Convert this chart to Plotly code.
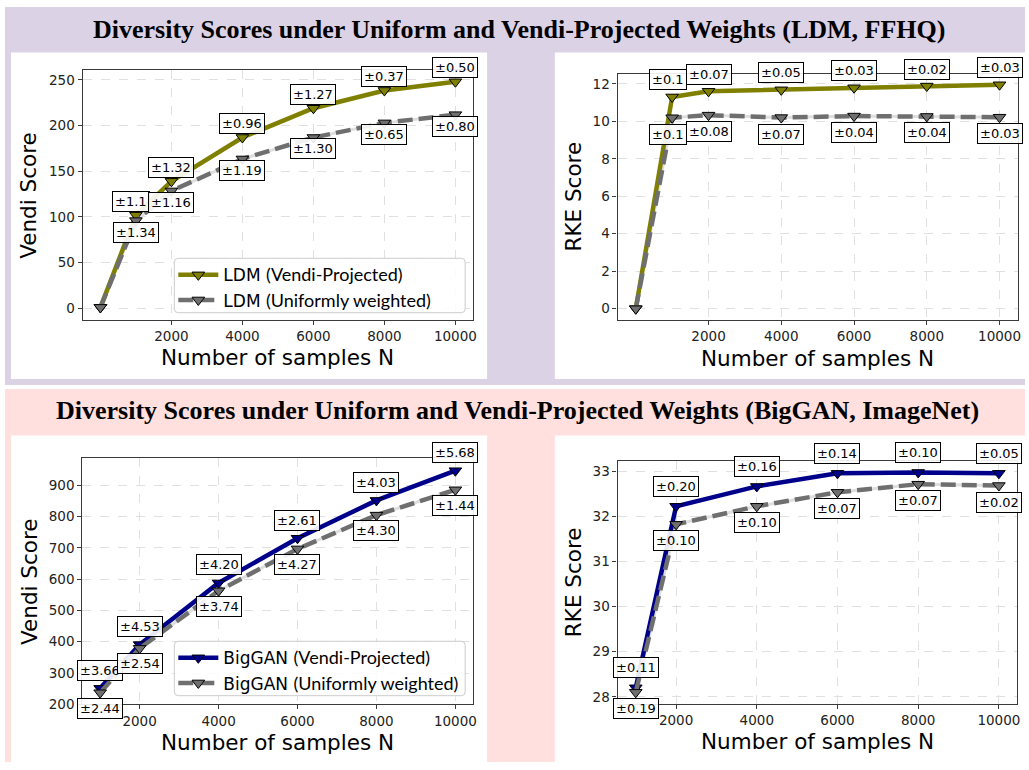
import plotly.graph_objects as go

# ---------------- data ----------------
N_ldm = [0, 1000, 2000, 4000, 6000, 8000, 10000]
ldm_vendi_proj = [1, 102, 139, 187, 219, 238.5, 248]
ldm_vendi_unif = [1, 96, 128.5, 163.5, 187, 203, 212]
ldm_vendi_proj_std = ["", "±1.1", "±1.32", "±0.96", "±1.27", "±0.37", "±0.50"]
ldm_vendi_unif_std = ["", "±1.34", "±1.16", "±1.19", "±1.30", "±0.65", "±0.80"]

ldm_rke_proj = [0, 11.3, 11.6, 11.68, 11.79, 11.88, 11.95]
ldm_rke_unif = [0, 10.19, 10.33, 10.2, 10.28, 10.26, 10.22]
ldm_rke_proj_std = ["", "±0.1", "±0.07", "±0.05", "±0.03", "±0.02", "±0.03"]
ldm_rke_unif_std = ["", "±0.1", "±0.08", "±0.07", "±0.04", "±0.04", "±0.03"]

N_big = [1000, 2000, 4000, 6000, 8000, 10000]
big_vendi_proj = [251, 391, 588, 731, 852, 947]
big_vendi_unif = [237, 379, 563, 697, 805, 886]
big_vendi_proj_std = ["±3.66", "±4.53", "±4.20", "±2.61", "±4.03", "±5.68"]
big_vendi_unif_std = ["±2.44", "±2.54", "±3.74", "±4.27", "±4.30", "±1.44"]

big_rke_proj = [28.2, 32.22, 32.66, 32.95, 32.97, 32.95]
big_rke_unif = [28.1, 31.82, 32.22, 32.53, 32.71, 32.68]
big_rke_proj_std = ["±0.11", "±0.20", "±0.16", "±0.14", "±0.10", "±0.05"]
big_rke_unif_std = ["±0.19", "±0.10", "±0.10", "±0.07", "±0.07", "±0.02"]

x_ticks = [2000, 4000, 6000, 8000, 10000]
x_ticktext = ["2000", "4000", "6000", "8000", "10000"]
ldm_vendi_ticks = [0, 50, 100, 150, 200, 250]
ldm_rke_ticks = [0, 2, 4, 6, 8, 10, 12]
big_vendi_ticks = [200, 300, 400, 500, 600, 700, 800, 900]
big_rke_ticks = [28, 29, 30, 31, 32, 33]

titles = ["Diversity Scores under Uniform and Vendi-Projected Weights (LDM, FFHQ)",
          "Diversity Scores under Uniform and Vendi-Projected Weights (BigGAN, ImageNet)"]

# ---------------- style ----------------
W, H = 1029, 770
OLIVE = "#808000"
NAVY = "#00008B"
GRAY = "#6f6f6f"
LAV = "rgb(220,210,230)"
PINK = "rgb(255,224,222)"
FONT = "DejaVu Sans"


def px(x):
    return x / W


def py(y):
    return 1 - y / H


fig = go.Figure()

panels = [
    dict(ax="", dom_x=(83, 475), dom_y=(71, 323), xr=[-500, 10500], yr=[-12.4, 260.6],
         yt=ldm_vendi_ticks, N=N_ldm, main=ldm_vendi_proj, unif=ldm_vendi_unif,
         mstd=ldm_vendi_proj_std, ustd=ldm_vendi_unif_std, col=OLIVE, up=14, dn=-11.5,
         ytitle="Vendi Score", ytx=29, legend="legend", model="LDM"),
    dict(ax="2", dom_x=(620, 1021.7), dom_y=(74.3, 323.3), xr=[-500, 10500], yr=[-0.6, 12.55],
         yt=ldm_rke_ticks, N=N_ldm, main=ldm_rke_proj, unif=ldm_rke_unif,
         mstd=ldm_rke_proj_std, ustd=ldm_rke_unif_std, col=OLIVE, up=17, dn=-16.5,
         ytitle="RKE Score", ytx=576, legend=None, model="LDM"),
    dict(ax="3", dom_x=(82.7, 475), dom_y=(462.7, 711.7), xr=[550, 10450], yr=[200, 988],
         yt=big_vendi_ticks, N=N_big, main=big_vendi_proj, unif=big_vendi_unif,
         mstd=big_vendi_proj_std, ustd=big_vendi_unif_std, col=NAVY, up=18, dn=-15.5,
         ytitle="Vendi Score", ytx=29, legend="legend2", model="BigGAN"),
    dict(ax="4", dom_x=(620, 1021), dom_y=(466, 711), xr=[550, 10450], yr=[27.85, 33.22],
         yt=big_rke_ticks, N=N_big, main=big_rke_proj, unif=big_rke_unif,
         mstd=big_rke_proj_std, ustd=big_rke_unif_std, col=NAVY, up=20, dn=-16.5,
         ytitle="RKE Score", ytx=576, legend=None, model="BigGAN"),
]

PAREN = "<span style='font-family:Lato;font-size:18px'>"

annotations = []
for p in panels:
    xa = "x" + p["ax"]
    ya = "y" + p["ax"]
    show = p["legend"] is not None
    lg = p["legend"] if show else "legend"
    fig.add_trace(go.Scatter(x=p["N"], y=p["unif"], mode="lines", xaxis=xa, yaxis=ya,
                             line=dict(color="#dedede", width=3), showlegend=False,
                             hoverinfo="skip"))
    fig.add_trace(go.Scatter(
        x=p["N"], y=p["main"], mode="lines+markers", xaxis=xa, yaxis=ya,
        line=dict(color=p["col"], width=4.5),
        marker=dict(symbol="triangle-down", size=11, color=p["col"],
                    line=dict(color="black", width=1)),
        name=p["model"] + " " + PAREN + "(Vendi-Projected)</span>",
        showlegend=show, legend=lg))
    fig.add_trace(go.Scatter(
        x=p["N"], y=p["unif"], mode="lines+markers", xaxis=xa, yaxis=ya,
        line=dict(color=GRAY, width=4.5, dash="15px,6px"),
        marker=dict(symbol="triangle-down", size=11, color=GRAY,
                    line=dict(color="black", width=1)),
        name=p["model"] + " " + PAREN + "(Uniformly weighted)</span>",
        showlegend=show, legend=lg))

    for series, labels, shift in ((p["main"], p["mstd"], p["up"]), (p["unif"], p["ustd"], p["dn"])):
        for xv, yv, t in zip(p["N"], series, labels):
            if not t:
                continue
            trunc = len(t) < 5
            annotations.append(dict(
                x=xv, y=yv, xref=xa, yref=ya, text=t, showarrow=False,
                xanchor="left" if trunc else "center", xshift=-23.5 if trunc else 0,
                yanchor="middle", yshift=shift,
                font=dict(family=FONT, size=13, color="black"),
                bgcolor="rgba(255,255,255,0.9)", bordercolor="black", borderwidth=1,
                borderpad=2))

    annotations.append(dict(x=px((p["dom_x"][0] + p["dom_x"][1]) / 2), y=py(p["dom_y"][1] + 38.5),
                            xref="paper", yref="paper", text="Number of samples N", showarrow=False,
                            xanchor="center", yanchor="middle",
                            font=dict(family=FONT, size=21.5, color="black")))
    annotations.append(dict(x=px(p["ytx"]),
                            y=py((p["dom_y"][0] + p["dom_y"][1]) / 2),
                            xref="paper", yref="paper", text=p["ytitle"], showarrow=False,
                            textangle=-90, xanchor="center", yanchor="middle",
                            font=dict(family=FONT, size=21.5, color="black")))

    axis_common = dict(showline=True, mirror=True, linecolor="#3a3a3a", linewidth=1.3,
                       ticks="outside", ticklen=4, tickcolor="#3a3a3a", tickwidth=1,
                       showgrid=True, gridcolor="#e0e0e0", griddash="dash", gridwidth=1,
                       zeroline=False, tickfont=dict(family=FONT, size=13.5, color="#222"))
    fig.update_layout(**{
        "xaxis" + p["ax"]: dict(domain=[px(p["dom_x"][0]), px(p["dom_x"][1])], range=p["xr"],
                                tickmode="array", tickvals=x_ticks, ticktext=x_ticktext,
                                anchor=ya, **axis_common),
        "yaxis" + p["ax"]: dict(domain=[py(p["dom_y"][1]), py(p["dom_y"][0])], range=p["yr"],
                                tickmode="array", tickvals=p["yt"], anchor=xa, **axis_common),
    })

annotations.append(dict(x=px(521.5), y=py(30), xref="paper", yref="paper", text="<b>" + titles[0] + "</b>",
                        showarrow=False, xanchor="center", yanchor="middle",
                        font=dict(family="Liberation Serif", size=26, color="black")))
annotations.append(dict(x=px(520), y=py(415), xref="paper", yref="paper", text="<b>" + titles[1] + "</b>",
                        showarrow=False, xanchor="center", yanchor="middle",
                        font=dict(family="Liberation Serif", size=26, color="black")))


def rect(x0, y0, x1, y1, color):
    return dict(type="rect", xref="paper", yref="paper", x0=px(x0), x1=px(x1),
                y0=py(y1), y1=py(y0), fillcolor=color, line=dict(width=0), layer="below")


def rounded_box(x0, y0, x1, y1, r=4):
    rx, ry = r / W, r / H
    X0, X1 = px(x0), px(x1)
    Yt, Yb = py(y0), py(y1)
    path = (f"M{X0 + rx},{Yt} L{X1 - rx},{Yt} Q{X1},{Yt} {X1},{Yt - ry} "
            f"L{X1},{Yb + ry} Q{X1},{Yb} {X1 - rx},{Yb} L{X0 + rx},{Yb} "
            f"Q{X0},{Yb} {X0},{Yb + ry} L{X0},{Yt - ry} Q{X0},{Yt} {X0 + rx},{Yt} Z")
    return dict(type="path", xref="paper", yref="paper", path=path,
                fillcolor="rgba(255,255,255,0.85)", line=dict(color="#cccccc", width=1),
                layer="above")


shapes = [
    rect(5, 7, 1029, 389, LAV),
    rect(5, 393, 1029, 770, PINK),
    rect(11, 53, 489, 383, "white"),
    rect(557, 53, 1029, 383, "white"),
    rect(11, 440, 489, 770, "white"),
    rect(557, 440, 1029, 770, "white"),
    rounded_box(175, 261, 467, 316),
    rounded_box(175, 648, 467, 703),
]

legend_common = dict(bgcolor="rgba(0,0,0,0)", borderwidth=0,
                     font=dict(family=FONT, size=17, color="black"), itemwidth=40,
                     xanchor="left", yanchor="top", tracegroupgap=0)

fig.update_layout(
    width=W, height=H, margin=dict(l=0, r=0, t=0, b=0),
    paper_bgcolor="white", plot_bgcolor="white",
    shapes=shapes, annotations=annotations,
    legend=dict(x=px(174), y=py(260), **legend_common),
    legend2=dict(x=px(174), y=py(647), **legend_common),
)

fig.write_html("out.html")
